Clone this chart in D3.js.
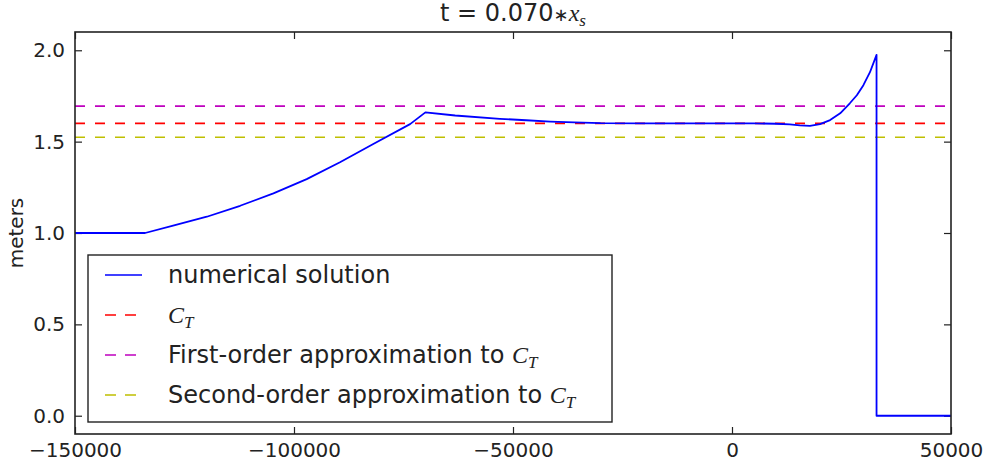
<!DOCTYPE html>
<html>
<head>
<meta charset="utf-8">
<script src="https://cdn.jsdelivr.net/npm/d3@7"></script>
<style>
  html, body { margin: 0; padding: 0; background: #fff; }
  svg { display: block; font-family: "DejaVu Sans", sans-serif; }
</style>
</head>
<body>
<div id="chart"></div>
<script>
// ========= DATA =========
// numerical solution (x in meters along the channel, y = height in meters)
const SOL_X = [-150000, -134000, -127600, -119900, -112300, -104700, -97100, -89500, -81900,
  -73500, -70000, -63200, -53000, -47000, -41500, -36000, -30000, -20000, 0, 5000,
  10000, 13200, 15500, 17800, 20100, 22400, 24700, 26900, 28500, 30000, 31500, 33000, 33000, 50000];
const SOL_Y = [1.000, 1.000, 1.040, 1.089, 1.149, 1.217, 1.295, 1.387, 1.487,
  1.596, 1.660, 1.643, 1.625, 1.617, 1.610, 1.605, 1.601, 1.600, 1.600, 1.600,
  1.598, 1.594, 1.589, 1.586, 1.596, 1.618, 1.655, 1.710, 1.754, 1.809, 1.880, 1.975, 0.000, 0.000];

// horizontal reference levels
const LEVEL_NAMES  = ["C_T", "first", "second"];
const LEVEL_VALUES = [1.600, 1.694, 1.524];

const X_TICKS = [-150000, -100000, -50000, 0, 50000];
const Y_TICKS = [0.0, 0.5, 1.0, 1.5, 2.0];

// ========= CONFIG =========
const W = 987, H = 466;
const plot = { left: 75, right: 951, top: 32, bottom: 434 };
const COLORS = { sol: "#0000ff", C_T: "#ff0000", first: "#bf00bf", second: "#bfbf00" };
const FONT = 20;       // ticks, ylabel
const FONT_L = 24;     // title, legend

const svg = d3.select("#chart").append("svg")
  .attr("width", W).attr("height", H);

const x = d3.scaleLinear().domain([-150000, 50000]).range([plot.left, plot.right]);
const y = d3.scaleLinear().domain([-0.1, 2.1]).range([plot.bottom, plot.top]);

// ========= AXES =========
function styleAxis(g){
  g.select(".domain").remove();
  g.selectAll(".tick line").attr("stroke", "#222").attr("stroke-width", 1.2);
  g.selectAll(".tick text").attr("fill", "#222").attr("font-size", FONT)
    .attr("font-family", "DejaVu Sans");
}

svg.append("g")
  .attr("transform", `translate(0,${plot.bottom})`)
  .call(d3.axisBottom(x).tickValues(X_TICKS).tickFormat(d3.format("d"))
    .tickSizeInner(-7).tickSizeOuter(0).tickPadding(9))
  .call(styleAxis);

svg.append("g")
  .attr("transform", `translate(0,${plot.top})`)
  .call(d3.axisTop(x).tickValues(X_TICKS).tickFormat("")
    .tickSizeInner(-7).tickSizeOuter(0))
  .call(styleAxis);

svg.append("g")
  .attr("transform", `translate(${plot.left},0)`)
  .call(d3.axisLeft(y).tickValues(Y_TICKS).tickFormat(d3.format(".1f"))
    .tickSizeInner(-7).tickSizeOuter(0).tickPadding(10))
  .call(styleAxis);

svg.append("g")
  .attr("transform", `translate(${plot.right},0)`)
  .call(d3.axisRight(y).tickValues(Y_TICKS).tickFormat("")
    .tickSizeInner(-7).tickSizeOuter(0))
  .call(styleAxis);

// ========= LINES =========
const g = svg.append("g");

// niveles horizontales (dashed)
LEVEL_NAMES.forEach((name, i) => {
  g.append("line")
    .attr("x1", x(-150000)).attr("x2", x(50000))
    .attr("y1", y(LEVEL_VALUES[i])).attr("y2", y(LEVEL_VALUES[i]))
    .attr("stroke", COLORS[name])
    .attr("stroke-width", 1.7)
    .attr("stroke-dasharray", "10,10");
});

const solData = SOL_X.map((v, i) => [v, SOL_Y[i]]);
g.append("path")
  .datum(solData)
  .attr("fill", "none")
  .attr("stroke", COLORS.sol)
  .attr("stroke-width", 1.8)
  .attr("stroke-linejoin", "round")
  .attr("d", d3.line().x(d => x(d[0])).y(d => y(d[1])));

// marco
svg.append("rect")
  .attr("x", plot.left).attr("y", plot.top)
  .attr("width", plot.right - plot.left).attr("height", plot.bottom - plot.top)
  .attr("fill", "none").attr("stroke", "#222").attr("stroke-width", 1.6);

// ========= TEXT =========
function mathSub(textSel, base, sub, size){
  textSel.append("tspan")
    .attr("font-family", "Liberation Serif, serif").attr("font-style", "italic")
    .attr("font-size", size).text(base);
  textSel.append("tspan")
    .attr("font-family", "Liberation Serif, serif").attr("font-style", "italic")
    .attr("font-size", Math.round(size * 0.7)).attr("dy", 5).text(sub);
}

const title = svg.append("text")
  .attr("x", (plot.left + plot.right) / 2).attr("y", 21)
  .attr("text-anchor", "middle").attr("font-size", FONT_L).attr("fill", "#222");
title.append("tspan").text("t = 0.070");
title.append("tspan").attr("font-size", 18).text("∗");
mathSub(title, "x", "s", FONT_L);

svg.append("text")
  .attr("transform", `translate(23,${(plot.top + plot.bottom) / 2}) rotate(-90)`)
  .attr("text-anchor", "middle").attr("font-size", FONT).attr("fill", "#222")
  .text("meters");

// ========= LEGEND =========
const legend = svg.append("g");
legend.append("rect")
  .attr("x", 88).attr("y", 255).attr("width", 524).attr("height", 167)
  .attr("fill", "#fff").attr("stroke", "#222").attr("stroke-width", 1.4);

const legendRows = [
  { key: "sol", dash: null, label: "numerical solution" },
  { key: "C_T", dash: "11,9", label: "" },
  { key: "first", dash: "11,9", label: "First-order approximation to " },
  { key: "second", dash: "11,9", label: "Second-order approximation to " }
];

legendRows.forEach((r, i) => {
  const cy = 275 + i * 40;
  legend.append("line")
    .attr("x1", 105).attr("x2", 142).attr("y1", cy).attr("y2", cy)
    .attr("stroke", COLORS[r.key]).attr("stroke-width", 1.7)
    .attr("stroke-dasharray", r.dash);
  const t = legend.append("text")
    .attr("x", 168).attr("y", cy + 8)
    .attr("font-size", FONT_L).attr("fill", "#222");
  if (r.label) t.append("tspan").text(r.label);
  if (r.key !== "sol") mathSub(t, "C", "T", FONT_L);
});
</script>
</body>
</html>
